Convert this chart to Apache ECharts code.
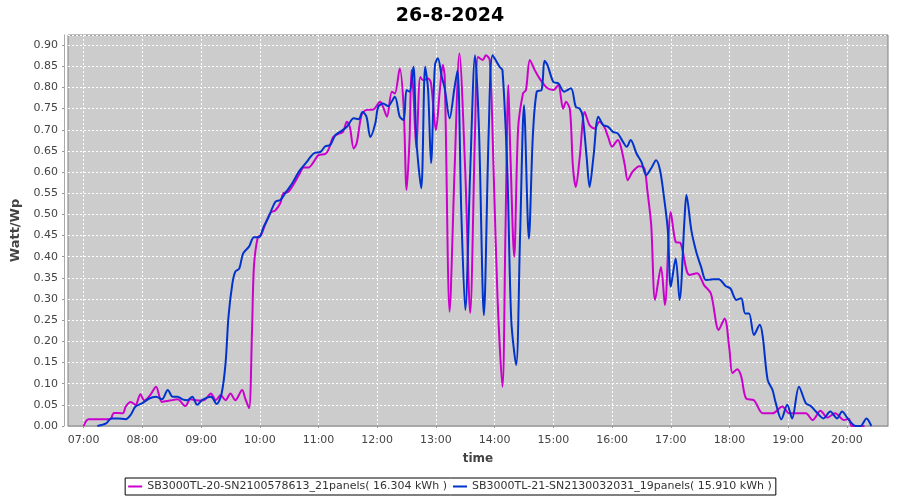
<!DOCTYPE html>
<html>
<head>
<meta charset="utf-8">
<script src="https://cdn.jsdelivr.net/npm/echarts@6/dist/echarts.min.js"></script>
<style>
  html, body { margin: 0; padding: 0; background: #fff; }
  #chart { width: 900px; height: 500px; }
</style>
</head>
<body>
<div id="chart"></div>
<script>
  // SB3000TL-20 (magenta)
  var magentaTimes = ['07:00', '07:05', '07:27', '07:31', '07:40', '07:43', '07:48', '07:53', '07:58', '08:02',
    '08:08', '08:14', '08:20', '08:28', '08:36', '08:44', '08:49', '08:59', '09:04', '09:10',
    '09:15', '09:20', '09:25', '09:30', '09:35', '09:42', '09:45', '09:49', '09:52', '09:54',
    '09:58', '10:01', '10:06', '10:11', '10:16', '10:21', '10:24', '10:29', '10:34', '10:40',
    '10:45', '10:50', '10:55', '11:00', '11:07', '11:10', '11:15', '11:20', '11:25', '11:29',
    '11:32', '11:36', '11:39', '11:44', '11:49', '11:56', '12:03', '12:06', '12:10', '12:15',
    '12:18', '12:23', '12:27', '12:30', '12:33', '12:35', '12:37', '12:40', '12:44', '12:47',
    '12:52', '12:55', '13:00', '13:04', '13:07', '13:09', '13:14', '13:19', '13:24', '13:30',
    '13:35', '13:40', '13:43', '13:48', '13:51', '13:55', '13:59', '14:03', '14:08', '14:11',
    '14:14', '14:16', '14:20', '14:24', '14:29', '14:32', '14:36', '14:41', '14:46', '14:53',
    '15:00', '15:05', '15:10', '15:13', '15:17', '15:20', '15:23', '15:27', '15:32', '15:37',
    '15:42', '15:47', '15:52', '15:56', '16:00', '16:06', '16:09', '16:13', '16:16', '16:21',
    '16:28', '16:33', '16:36', '16:40', '16:44', '16:50', '16:54', '17:00', '17:05', '17:10',
    '17:19', '17:27', '17:34', '17:41', '17:49', '17:55', '18:00', '18:03', '18:08', '18:12',
    '18:17', '18:25', '18:34', '18:44', '18:54', '19:01', '19:11', '19:18', '19:25', '19:33',
    '19:40', '19:48', '19:57', '20:02', '20:05', '20:18']
  var magentaValues = [0, 0.016, 0.016, 0.031, 0.03, 0.046, 0.057, 0.05, 0.075, 0.06,
    0.073, 0.093, 0.057, 0.06, 0.063, 0.047, 0.063, 0.06, 0.062, 0.077,
    0.061, 0.073, 0.061, 0.077, 0.061, 0.085, 0.066, 0.042, 0.22, 0.376,
    0.447, 0.45, 0.479, 0.504, 0.51, 0.527, 0.55, 0.553, 0.569, 0.593,
    0.611, 0.611, 0.624, 0.64, 0.643, 0.652, 0.683, 0.69, 0.695, 0.719,
    0.707, 0.656, 0.668, 0.735, 0.747, 0.748, 0.766, 0.754, 0.731, 0.79,
    0.786, 0.845, 0.754, 0.558, 0.676, 0.841, 0.787, 0.656, 0.825, 0.817,
    0.821, 0.81, 0.699, 0.794, 0.853, 0.825, 0.27, 0.6, 0.88, 0.6,
    0.267, 0.7, 0.872, 0.865, 0.876, 0.865, 0.6, 0.3, 0.093, 0.45,
    0.806, 0.65, 0.4, 0.703, 0.786, 0.794, 0.865, 0.841, 0.821, 0.8,
    0.794, 0.806, 0.75, 0.766, 0.747, 0.613, 0.565, 0.636, 0.742, 0.711,
    0.703, 0.719, 0.707, 0.683, 0.66, 0.676, 0.66, 0.617, 0.581, 0.601,
    0.614, 0.609, 0.558, 0.475, 0.298, 0.376, 0.286, 0.506, 0.435, 0.432,
    0.357, 0.361, 0.333, 0.313, 0.227, 0.254, 0.18, 0.125, 0.134, 0.117,
    0.065, 0.061, 0.03, 0.03, 0.046, 0.03, 0.03, 0.03, 0.014, 0.036,
    0.02, 0.03, 0.014, 0.017, 0, 0]

  // SB3000TL-21 (blue)
  var blueTimes = ['07:14', '07:23', '07:28', '07:35', '07:43', '07:48', '07:53', '08:00', '08:07', '08:14',
    '08:20', '08:26', '08:31', '08:36', '08:41', '08:46', '08:51', '08:56', '09:01', '09:10',
    '09:16', '09:21', '09:25', '09:28', '09:32', '09:35', '09:39', '09:43', '09:49', '09:54',
    '09:59', '10:04', '10:09', '10:16', '10:21', '10:26', '10:33', '10:40', '10:48', '10:55',
    '11:02', '11:07', '11:12', '11:17', '11:22', '11:29', '11:36', '11:41', '11:45', '11:49',
    '11:53', '11:58', '12:01', '12:06', '12:11', '12:18', '12:23', '12:27', '12:30', '12:33',
    '12:37', '12:40', '12:45', '12:49', '12:52', '12:55', '12:59', '13:02', '13:06', '13:09',
    '13:14', '13:19', '13:22', '13:26', '13:30', '13:35', '13:40', '13:44', '13:49', '13:54',
    '13:58', '14:05', '14:08', '14:13', '14:17', '14:22', '14:26', '14:30', '14:35', '14:39',
    '14:43', '14:48', '14:51', '14:54', '15:00', '15:05', '15:11', '15:18', '15:23', '15:27',
    '15:30', '15:34', '15:37', '15:41', '15:46', '15:51', '15:56', '16:01', '16:06', '16:11',
    '16:15', '16:19', '16:25', '16:30', '16:35', '16:40', '16:45', '16:49', '16:53', '16:57',
    '17:00', '17:05', '17:09', '17:14', '17:16', '17:21', '17:26', '17:31', '17:36', '17:43',
    '17:49', '17:56', '18:01', '18:07', '18:12', '18:16', '18:20', '18:25', '18:31', '18:34',
    '18:39', '18:44', '18:47', '18:53', '18:59', '19:04', '19:11', '19:18', '19:23', '19:30',
    '19:36', '19:43', '19:50', '19:55', '20:02', '20:09', '20:14', '20:20', '20:25']
  var blueValues = [0, 0.006, 0.018, 0.018, 0.016, 0.026, 0.046, 0.054, 0.065, 0.069,
    0.063, 0.085, 0.069, 0.069, 0.063, 0.061, 0.069, 0.05, 0.061, 0.069,
    0.052, 0.077, 0.148, 0.258, 0.337, 0.365, 0.372, 0.408, 0.424, 0.446,
    0.446, 0.471, 0.494, 0.53, 0.534, 0.55, 0.573, 0.601, 0.624, 0.644,
    0.648, 0.661, 0.664, 0.687, 0.695, 0.707, 0.727, 0.725, 0.742, 0.731,
    0.683, 0.715, 0.754, 0.762, 0.756, 0.778, 0.731, 0.723, 0.794, 0.79,
    0.849, 0.676, 0.562, 0.849, 0.794, 0.621, 0.853, 0.869, 0.825, 0.798,
    0.727, 0.8, 0.84, 0.5, 0.274, 0.6, 0.876, 0.7, 0.262, 0.7,
    0.876, 0.849, 0.841, 0.6, 0.25, 0.144, 0.45, 0.758, 0.443, 0.683,
    0.79, 0.794, 0.863, 0.853, 0.813, 0.81, 0.79, 0.798, 0.754, 0.75,
    0.731, 0.636, 0.565, 0.636, 0.731, 0.711, 0.707, 0.695, 0.691, 0.672,
    0.66, 0.676, 0.644, 0.624, 0.593, 0.609, 0.628, 0.605, 0.542, 0.463,
    0.329, 0.396, 0.298, 0.487, 0.546, 0.463, 0.412, 0.376, 0.345, 0.347,
    0.347, 0.331, 0.325, 0.298, 0.302, 0.266, 0.266, 0.215, 0.239, 0.211,
    0.109, 0.085, 0.057, 0.016, 0.05, 0.018, 0.093, 0.054, 0.047, 0.03,
    0.018, 0.034, 0.018, 0.034, 0.014, 0, 0, 0.018, 0]

  var seriesNames = [
    'SB3000TL-20-SN2100578613_21panels( 16.304 kWh )',
    'SB3000TL-21-SN2130032031_19panels( 15.910 kWh )'
  ]

  // one category per minute, 06:44 .. 20:42
  var minuteAxis = []
  for (var m = 6 * 60 + 44; m <= 20 * 60 + 42; m++) {
    var hh = Math.floor(m / 60)
    var mm = m % 60
    minuteAxis.push((hh < 10 ? '0' : '') + hh + ':' + (mm < 10 ? '0' : '') + mm)
  }
  function onHour (idx, val) {
    return val.slice(3) === '00'
  }
  function pairs (times, values) {
    return times.map(function (t, i) { return [t, values[i]] })
  }

  var font = 'DejaVu Sans'
  var chart = echarts.init(document.getElementById('chart'))
  chart.setOption({
    animation: false,
    color: ['#cc00cc', '#0033cc'],
    title: {
      text: '26-8-2024',
      left: 'center',
      top: 2,
      textStyle: { fontFamily: font, fontSize: 19, fontWeight: 'bold', color: '#000' }
    },
    grid: {
      left: 68,
      right: 12,
      top: 35,
      bottom: 74,
      show: true,
      backgroundColor: '#cccccc',
      borderColor: '#808080',
      borderWidth: 1
    },
    legend: {
      left: 'center',
      top: 478,
      padding: [3, 4, 3, 3],
      itemGap: 6,
      itemWidth: 14,
      itemHeight: 2,
      icon: 'rect',
      backgroundColor: '#fff',
      borderColor: '#000',
      borderWidth: 1,
      textStyle: { fontFamily: font, fontSize: 11, color: '#333' },
      data: seriesNames
    },
    xAxis: {
      type: 'category',
      data: minuteAxis,
      boundaryGap: false,
      offset: 4,
      name: 'time',
      nameLocation: 'middle',
      nameGap: 23,
      nameTextStyle: { fontFamily: font, fontSize: 12, fontWeight: 'bold', color: '#444' },
      axisLine: { lineStyle: { color: '#aaaaaa' } },
      axisTick: { interval: onHour, length: 2, lineStyle: { color: '#999' } },
      axisLabel: { interval: onHour, margin: 5, fontFamily: font, fontSize: 11, color: '#444' },
      splitLine: { show: true, interval: onHour, lineStyle: { color: '#ffffff', type: [2, 2], width: 1 } }
    },
    yAxis: {
      type: 'value',
      min: 0,
      max: 0.924,
      interval: 0.05,
      offset: 4,
      name: 'Watt/Wp',
      nameLocation: 'middle',
      nameGap: 34,
      nameTextStyle: { fontFamily: font, fontSize: 13, fontWeight: 'bold', color: '#444' },
      axisLine: { show: true, lineStyle: { color: '#aaaaaa' } },
      axisTick: { show: true, length: 2, lineStyle: { color: '#999' } },
      axisLabel: {
        showMaxLabel: false,
        margin: 6,
        fontFamily: font,
        fontSize: 11,
        color: '#444',
        formatter: function (val) { return val.toFixed(2) }
      },
      splitLine: { show: true, lineStyle: { color: '#ffffff', type: [2, 2], width: 1 } }
    },
    series: [
      {
        name: seriesNames[0],
        type: 'line',
        smooth: 0.3,
        showSymbol: false,
        symbol: 'none',
        lineStyle: { width: 2 },
        data: pairs(magentaTimes, magentaValues)
      },
      {
        name: seriesNames[1],
        type: 'line',
        smooth: 0.3,
        showSymbol: false,
        symbol: 'none',
        lineStyle: { width: 2 },
        data: pairs(blueTimes, blueValues)
      }
    ]
  })
</script>
</body>
</html>
